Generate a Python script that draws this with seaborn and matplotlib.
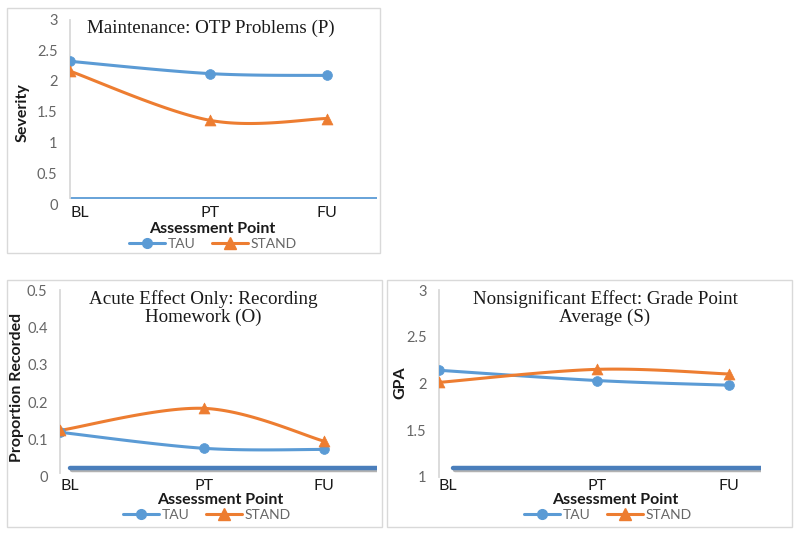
import numpy as np
import pandas as pd
import matplotlib
matplotlib.use("Agg")
import matplotlib.pyplot as plt
import seaborn as sns
from matplotlib.lines import Line2D
from matplotlib.patches import Rectangle
import matplotlib.patheffects as pe

# ---------------- data ----------------
assessment_points = ["BL", "PT", "FU"]
assessment_week = [0, 12, 22]
groups = ["TAU", "STAND"]

otp_tau = [2.32, 2.12, 2.09]
otp_stand = [2.16, 1.36, 1.39]

hw_tau = [0.119, 0.076, 0.073]
hw_stand = [0.124, 0.183, 0.095]

gpa_tau = [2.14, 2.03, 1.98]
gpa_stand = [2.01, 2.15, 2.10]

otp_ticks = [0, 0.5, 1, 1.5, 2, 2.5, 3]
hw_ticks = [0, 0.1, 0.2, 0.3, 0.4, 0.5]
gpa_ticks = [1, 1.5, 2, 2.5, 3]

# ---------------- style ----------------
sns.set_theme(style="white")
plt.rcParams["font.family"] = ["Lato", "DejaVu Sans"]
BLUE = "#5B9BD5"
ORANGE = "#ED7D31"
W, H = 800, 535

fig = plt.figure(figsize=(W / 100, H / 100), dpi=100)


def rect(l, t, r, b):
    return [l / W, 1 - b / H, (r - l) / W, (b - t) / H]


def fxy(x, y):
    return x / W, 1 - y / H


def smooth(x, y, n=40):
    P = np.column_stack([x, y]).astype(float)
    ext = np.vstack([P[0], P, P[-1]])
    out = []
    t = np.linspace(0, 1, n)[:, None]
    for i in range(len(P) - 1):
        p0, p1, p2, p3 = ext[i], ext[i + 1], ext[i + 2], ext[i + 3]
        c1 = p1 + (p2 - p0) / 6
        c2 = p2 - (p3 - p1) / 6
        seg = (1 - t) ** 3 * p1 + 3 * (1 - t) ** 2 * t * c1 + 3 * (1 - t) * t ** 2 * c2 + t ** 3 * p2
        out.append(seg if i == 0 else seg[1:])
    return np.vstack(out)


def panel(r, xmax, ylim, ticks, tau, stand):
    ax = fig.add_axes(r)
    for vals, color, marker, s in [(tau, BLUE, "o", 50), (stand, ORANGE, "^", 62)]:
        curve = smooth(assessment_week, vals)
        ax.plot(curve[:, 0], curve[:, 1], color=color, lw=2.2, solid_capstyle="round", zorder=2)
        pts = pd.DataFrame({"x": assessment_week, "y": vals})
        sns.scatterplot(data=pts, x="x", y="y", ax=ax, color=color, marker=marker, s=s,
                        edgecolor=color, linewidth=0.5, zorder=3, legend=False)
    ax.set_xlim(0, xmax)
    ax.set_ylim(*ylim)
    ax.set_xlabel("")
    ax.set_ylabel("")
    ax.set_xticks(assessment_week)
    ax.set_xticklabels(assessment_points)
    ax.get_xticklabels()[0].set_ha("left")
    ax.set_yticks(ticks)
    ax.set_yticklabels([f"{v:g}" for v in ticks])
    ax.tick_params(axis="y", length=0, pad=9, labelsize=10.5, labelcolor="#666666")
    ax.tick_params(axis="x", length=0, pad=1.5, labelsize=11.5, labelcolor="#1a1a1a")
    for sp in ["top", "right", "bottom"]:
        ax.spines[sp].set_visible(False)
    ax.spines["left"].set_color("#D9D9D9")
    ax.spines["left"].set_linewidth(1.3)
    ax.set_facecolor("none")
    ax.grid(False)
    return ax


def legend(cx, cy):
    handles = [Line2D([0], [0], color=BLUE, lw=2.2, marker="o", markersize=7),
               Line2D([0], [0], color=ORANGE, lw=2.2, marker="^", markersize=8)]
    fig.legend(handles, groups, loc="center", bbox_to_anchor=fxy(cx, cy), ncol=2,
               frameon=False, handlelength=2.6, columnspacing=1.2, handletextpad=0.2,
               fontsize=10, labelcolor="#666666", borderaxespad=0, borderpad=0)


def border(l, t, r, b):
    fig.patches.append(Rectangle(fxy(l, b), (r - l) / W, (b - t) / H, transform=fig.transFigure,
                                 fill=False, edgecolor="#D9D9D9", lw=1.0, zorder=0))


shadow = [pe.SimpleLineShadow(offset=(1.2, -1.5), shadow_color="#7f7f7f", alpha=0.6), pe.Normal()]
serif = ["Liberation Serif", "DejaVu Serif"]
TITLE_FS = 13.7
LAB_FS = 11.5

# ---- panel 1 ----
border(7, 8, 380, 253)
ax1 = panel(rect(70, 19.5, 377, 204), 26.3, (0, 3), otp_ticks, otp_tau, otp_stand)
ax1.axhline(0.1, color=BLUE, lw=1.3, zorder=1)
ax1.spines["left"].set_bounds(0.1, 3)
fig.text(*fxy(211, 28), "Maintenance: OTP Problems (P)", ha="center", va="center",
         fontsize=TITLE_FS, family=serif, color="#1a1a1a")
fig.text(*fxy(23, 113), "Severity", rotation=90, ha="center", va="center",
         fontsize=LAB_FS, fontweight="bold", color="#1a1a1a")
fig.text(*fxy(212, 229), "Assessment Point", ha="center", va="center",
         fontsize=LAB_FS, fontweight="bold", color="#1a1a1a")
legend(213, 244)

# ---- panel 2 ----
border(7, 280, 382, 527)
ax2 = panel(rect(60, 290, 377, 476.7), 26.4, (0, 0.5), hw_ticks, hw_tau, hw_stand)
ax2.axhline(0.023, xmin=0.032, xmax=1, color="#4A7EBB", lw=3.2, zorder=1, path_effects=shadow)
ax2.spines["left"].set_bounds(0.01, 0.5)
fig.text(*fxy(203, 308), "Acute Effect Only: Recording\nHomework (O)", ha="center", va="center",
         fontsize=TITLE_FS, family=serif, color="#1a1a1a", linespacing=1.05)
fig.text(*fxy(17, 387), "Proportion Recorded", rotation=90, ha="center", va="center",
         fontsize=LAB_FS, fontweight="bold", color="#1a1a1a")
fig.text(*fxy(220, 500), "Assessment Point", ha="center", va="center",
         fontsize=LAB_FS, fontweight="bold", color="#1a1a1a")
legend(207, 515)

# ---- panel 3 ----
border(387, 280, 792, 527)
ax3 = panel(rect(439, 290, 761, 476.7), 24.4, (1, 3), gpa_ticks, gpa_tau, gpa_stand)
ax3.axhline(1.093, xmin=0.043, xmax=1, color="#4A7EBB", lw=3.2, zorder=1, path_effects=shadow)
ax3.spines["left"].set_bounds(1.0, 3)
fig.text(*fxy(605, 308), "Nonsignificant Effect: Grade Point\nAverage (S)", ha="center", va="center",
         fontsize=TITLE_FS, family=serif, color="#1a1a1a", linespacing=1.05)
fig.text(*fxy(400, 383), "GPA", rotation=90, ha="center", va="center",
         fontsize=LAB_FS, fontweight="bold", color="#1a1a1a")
fig.text(*fxy(615, 500), "Assessment Point", ha="center", va="center",
         fontsize=LAB_FS, fontweight="bold", color="#1a1a1a")
legend(608, 515)

fig.savefig("out.png", dpi=100, facecolor="white")
